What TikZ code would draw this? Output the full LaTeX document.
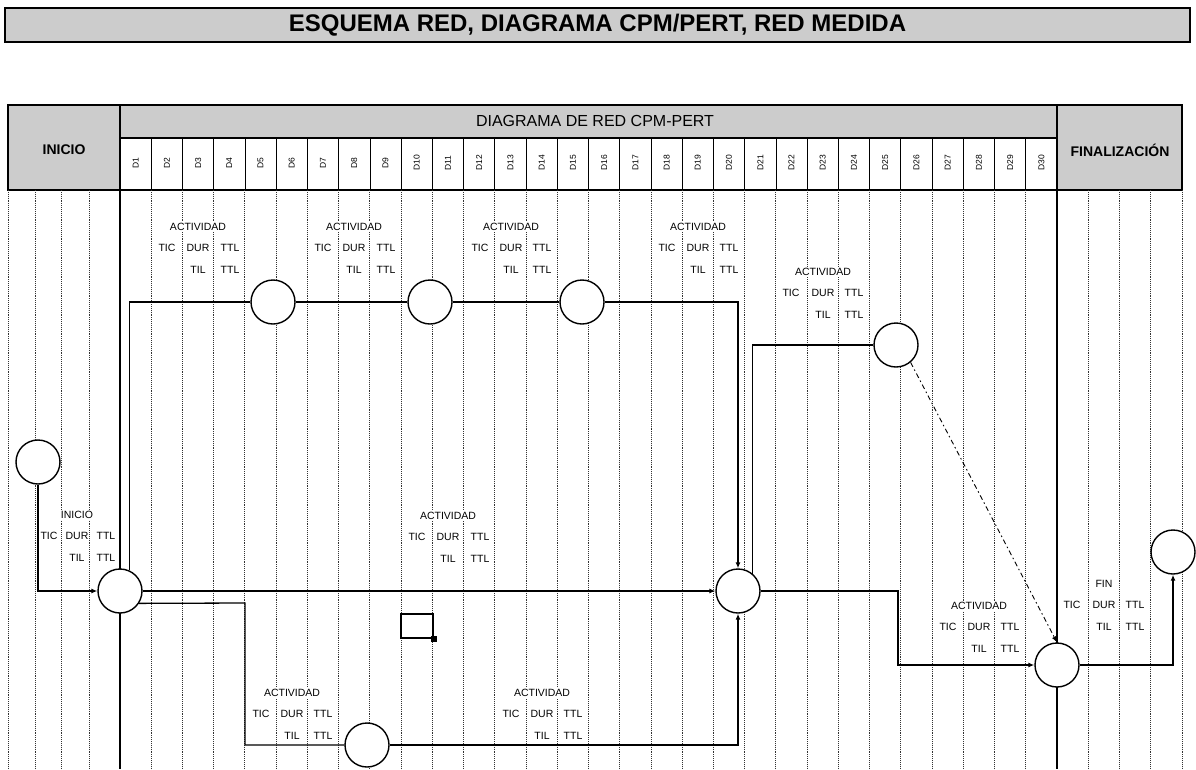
\documentclass[tikz,border=0pt]{standalone}
\usepackage{fontspec}
\setmainfont{Liberation Sans}
\usetikzlibrary{arrows.meta}
\tikzset{
  gridln/.style={densely dotted, line width=0.9pt, black!80},
  tblln/.style={line width=1.2pt, black},
  ev/.style={circle, draw, line width=1.4pt, fill=white, minimum size=44pt, inner sep=0pt},
  conn/.style={line width=1.3pt},
  arr/.style={conn, -{Latex[length=6pt,width=5pt]}},
  lbl/.style={font=\fontsize{10.5}{11}\selectfont, inner sep=0.8pt, fill=white},
  hdrfill/.style={fill=black!20},
  dlab/.style={rotate=90, font=\fontsize{8.5}{8.5}\selectfont, inner sep=0.5pt},
}
\newcommand\actblk[6]{%
  \node[lbl] (#1t) at ({#4},{#6}) {#2};
  \node[lbl] (#1a) at ({#3},{#6+21}) {TIC};
  \node[lbl] (#1b) at ({#4},{#6+21}) {DUR};
  \node[lbl] (#1c) at ({#5},{#6+21}) {TTL};
  \node[lbl] (#1d) at ({#4},{#6+43}) {TIL};
  \node[lbl] (#1e) at ({#5},{#6+43}) {TTL};
}
\begin{document}
\begin{tikzpicture}[x=1pt,y=-1pt]
\useasboundingbox (0,0) rectangle (1196,769);
% title
\node[draw, line width=1.3pt, hdrfill, minimum width=1185pt, minimum height=34pt, inner sep=0pt,
  font=\fontsize{24}{24}\selectfont\bfseries] (title) at (597.5,25) {ESQUEMA RED, DIAGRAMA CPM/PERT, RED MEDIDA};
% header fills
\fill[black!20] (8,105) rectangle (120,190);
\fill[black!20] (1057,105) rectangle (1182,190);
\fill[black!20] (120,105) rectangle (1057,138);
\node[font=\fontsize{14}{14}\selectfont\bfseries, inner sep=0pt] (hini) at (64,150) {INICIO};
\node[font=\fontsize{14}{14}\selectfont\bfseries, inner sep=0pt] (hfin) at (1120,150) {FINALIZACIÓN};
\node[font=\fontsize{16}{16}\selectfont, inner sep=0pt] (hdia) at (595,121) {DIAGRAMA DE RED CPM-PERT};
% D labels and separators
\foreach \i in {1,...,30} {
  \node[dlab] (dl\i) at ({120+31.233*(\i-0.5)},163) {D\i};
}
\foreach \i in {1,...,29} {
  \draw[line width=0.7pt] ({120+31.233*\i},138) -- ({120+31.233*\i},190);
}
\draw[line width=1.3pt] (120,138) -- (1057,138);
\draw[line width=1.5pt] (8,105) rectangle (1182,190);
\draw[line width=1.3pt] (120,105) -- (120,190);
\draw[line width=1.3pt] (1057,105) -- (1057,190);
% body grid
\foreach \x in {8,35,61,89,1088,1119,1150,1182} {
  \draw[gridln] (\x,190) -- (\x,769);
}
\foreach \i in {1,...,29} {
  \draw[gridln] ({120+31.233*\i},190) -- ({120+31.233*\i},769);
}
\draw[tblln] (120,190) -- (120,769);
\draw[tblln] (1057,190) -- (1057,769);
% activity labels
\actblk{La}{ACTIVIDAD}{167}{198}{230}{227}
\actblk{Lb}{ACTIVIDAD}{323}{354}{386}{227}
\actblk{Lc}{ACTIVIDAD}{480}{511}{542}{227}
\actblk{Ld}{ACTIVIDAD}{667}{698}{729}{227}
\actblk{Le}{ACTIVIDAD}{791}{823}{854}{272}
\actblk{Lf}{INICIO}{49}{77}{106}{515}
\actblk{Lg}{ACTIVIDAD}{417}{448}{480}{516}
\actblk{Lh}{ACTIVIDAD}{261}{292}{323}{693}
\actblk{Li}{ACTIVIDAD}{511}{542}{573}{693}
\actblk{Lj}{ACTIVIDAD}{948}{979}{1010}{606}
\actblk{Lk}{FIN}{1072}{1104}{1135}{584}
% small box
\node[draw, line width=1.3pt, minimum width=32pt, minimum height=24pt, inner sep=0pt] (box) at (417,626) {};
\fill (box.south east) ++(-3,-3) rectangle ++(6,6);
% events
\node[ev] (s) at (38,462) {};
\node[ev] (a) at (120,591) {};
\node[ev] (b1) at (273,302) {};
\node[ev] (b2) at (430,302) {};
\node[ev] (b3) at (582,302) {};
\node[ev] (c) at (738,591) {};
\node[ev] (d) at (896,345) {};
\node[ev] (e) at (367,745) {};
\node[ev] (f) at (1057,665) {};
\node[ev] (g) at (1173,552) {};
\coordinate (k1) at (245,603);
\coordinate (k2) at (898,591);
% connectors
\draw[arr] (s.south) |- (a.west);
\draw[conn] (a.66) |- (b1.west);
\draw[conn] (b1.east) -- (b2.west);
\draw[conn] (b2.east) -- (b3.west);
\draw[arr] (b3.east) -| (c.north);
\draw[conn] (c.50) |- (d.west);
\draw[arr] (a.east) -- (c.west);
\draw[conn] (a.-33) -- (k1) |- (e.west);
\draw[arr] (e.east) -| (c.south);
\draw[arr] (c.east) -- (k2) |- (f.west);
\draw[arr, line width=0.9pt, dash pattern=on 5pt off 3pt on 1.5pt off 3pt] (d.-50) -- (f.north);
\draw[arr] (f.east) -| (g.south);
\end{tikzpicture}
\end{document}
